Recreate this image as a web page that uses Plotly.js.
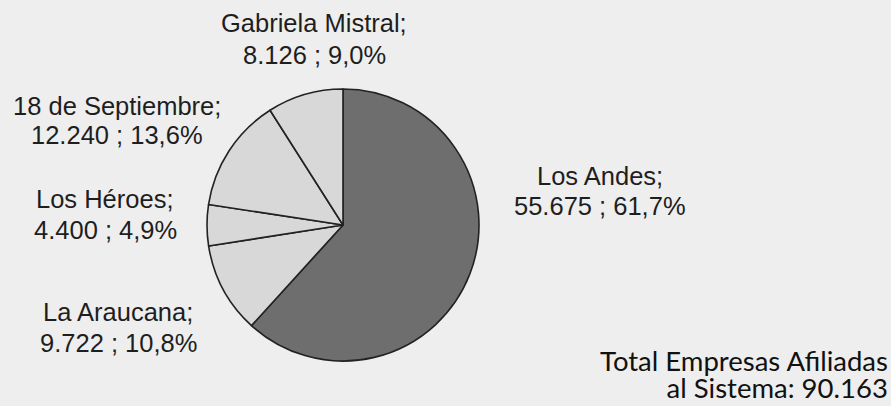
<!DOCTYPE html>
<html>
<head>
<meta charset="utf-8">
<script src="https://cdn.plot.ly/plotly-3.0.1.min.js"></script>
<style>html,body{margin:0;padding:0;background:#eeeeee;}#chart{width:891px;height:406px;}</style>
</head>
<body>
<div id="chart"></div>
<script>
// Data
const categories = ["Los Andes", "La Araucana", "Los Héroes", "18 de Septiembre", "Gabriela Mistral"];
const empresas = [55675, 9722, 4400, 12240, 8126];
const valueLabels = ["55.675", "9.722", "4.400", "12.240", "8.126"];
const pctLabels = ["61,7%", "10,8%", "4,9%", "13,6%", "9,0%"];
const totalLines = ["Total Empresas Afiliadas", "al Sistema: 90.163"];

// Styles
const sliceColors = ["#6e6e6e", "#d8d8d8", "#d8d8d8", "#d8d8d8", "#d8d8d8"];
const W = 891, H = 406;
const cx = 343, cy = 225, r = 136;
// label positions (pixel, top-left origin): [xCenter, yLine1, yLine2]
const labelPos = [
  [600, 176, 206],
  [118, 312, 343],
  [105, 199, 230],
  [117, 106, 135],
  [314, 23, 55]
];
const labelFont = {family: "Liberation Sans, Arial, sans-serif", size: 25.5, color: "#1e1e1e"};

const annotations = [];
categories.forEach((c, i) => {
  const p = labelPos[i];
  annotations.push({xref: "paper", yref: "paper", x: p[0] / W, y: 1 - p[1] / H,
    xanchor: "center", yanchor: "middle", showarrow: false, text: c + ";", font: labelFont});
  annotations.push({xref: "paper", yref: "paper", x: p[0] / W, y: 1 - p[2] / H,
    xanchor: "center", yanchor: "middle", showarrow: false,
    text: valueLabels[i] + " ; " + pctLabels[i], font: labelFont});
});
// Total note: small base font gives tight line spacing, inner span sets glyph size
annotations.push({xref: "paper", yref: "paper", x: 889 / W, y: 1 - 405 / H,
  xanchor: "right", yanchor: "bottom", align: "right", showarrow: false, borderpad: 0,
  text: totalLines.map(t => '<span style="font-size:27.5px">' + t + '</span>').join("<br>"),
  font: {family: "Lato, sans-serif", size: 21, color: "#111111"}});

const trace = {
  type: "pie",
  labels: categories,
  values: empresas,
  sort: false,
  direction: "clockwise",
  rotation: 0,
  textinfo: "none",
  hoverinfo: "label+value+percent",
  marker: {colors: sliceColors, line: {color: "#222222", width: 1.6}},
  domain: {x: [(cx - r) / W, (cx + r) / W], y: [(H - cy - r) / H, (H - cy + r) / H]},
  showlegend: false
};

const layout = {
  width: W, height: H,
  margin: {l: 0, r: 0, t: 0, b: 0},
  paper_bgcolor: "#eeeeee",
  plot_bgcolor: "#eeeeee",
  showlegend: false,
  annotations: annotations
};

Plotly.newPlot("chart", [trace], layout, {displayModeBar: false, staticPlot: true});
</script>
</body>
</html>
